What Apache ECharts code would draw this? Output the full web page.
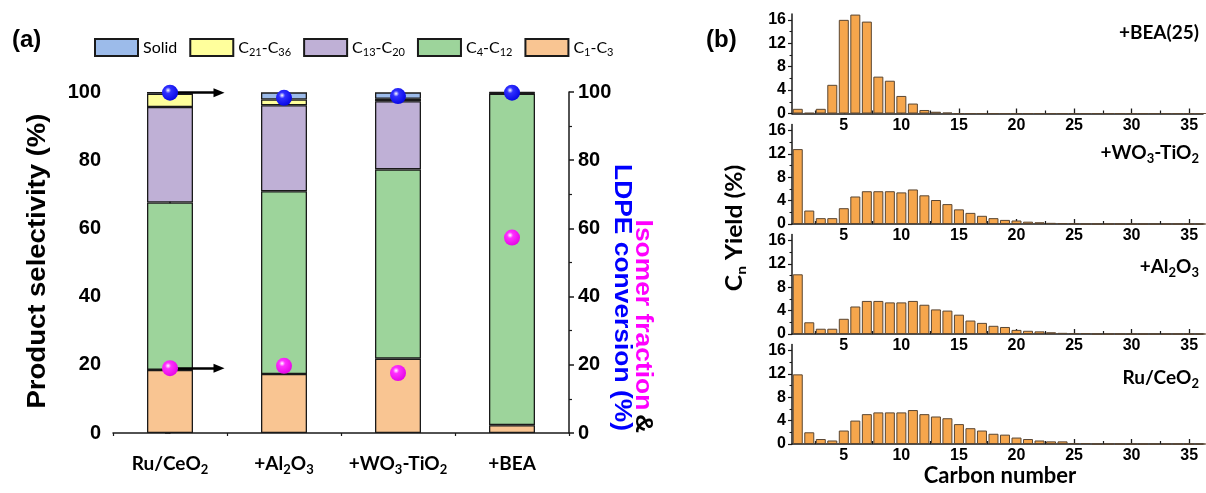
<!DOCTYPE html>
<html><head><meta charset="utf-8">
<script src="https://cdn.jsdelivr.net/npm/echarts@6/dist/echarts.min.js"></script>
<style>html,body{margin:0;padding:0;background:#fff}#c{width:1206px;height:493px}</style>
</head><body><div id="c"></div>
<script>
// ---------- Panel (a) data ----------
const catalysts = ['Ru/CeO2', '+Al2O3', '+WO3-TiO2', '+BEA'];
const fracC1C3 = [18.5, 17.3, 21.8, 2.3];
const fracC4C12 = [49.1, 53.6, 55.5, 97.2];
const fracC13C20 = [28.0, 25.2, 20.0, 0.2];
const fracC21C36 = [3.9, 1.7, 0.7, 0.1];
const fracSolid = [0.5, 2.1, 1.9, 0.2];
const ldpeConversion = [99.8, 98.3, 98.8, 99.8];
const isomerFraction = [19.0, 19.7, 17.6, 57.3];
const legendNames = ['Solid', 'C21-C36', 'C13-C20', 'C4-C12', 'C1-C3'];

// ---------- Panel (b) data ----------
const carbonNumbers = [1,2,3,4,5,6,7,8,9,10,11,12,13,14,15,16,17,18,19,20,21,22,23,24,25,26,27,28,29,30,31,32,33,34,35,36];
const yieldBEA = [0.8,0.1,0.8,4.9,16.0,16.9,15.7,6.3,5.6,3.0,1.7,0.6,0.3,0.15,0,0,0,0,0,0,0,0,0,0,0,0,0,0,0,0,0,0,0,0,0,0];
const yieldWO3TiO2 = [12.8,2.3,1.0,1.0,2.7,4.7,5.6,5.6,5.6,5.4,5.9,4.9,4.1,3.4,2.5,1.9,1.4,1.0,0.7,0.6,0.4,0.3,0.2,0.15,0.1,0,0,0,0,0,0,0,0,0,0,0];
const yieldAl2O3 = [10.2,2.0,0.9,0.9,2.6,4.7,5.65,5.65,5.4,5.4,5.65,5.0,4.2,4.0,3.3,2.3,1.9,1.4,1.2,0.7,0.55,0.45,0.3,0.2,0.15,0.15,0,0,0,0,0,0,0,0,0,0];
const yieldRuCeO2 = [11.9,2.0,0.85,0.6,2.3,4.0,5.1,5.4,5.4,5.4,5.8,5.1,4.7,4.4,3.4,2.7,2.3,1.75,1.6,1.1,0.85,0.6,0.45,0.45,0.15,0.15,0,0,0,0,0,0,0,0,0,0];
const panelLabels = ['+BEA(25)', '+WO3-TiO2', '+Al2O3', 'Ru/CeO2'];
const yieldTicks = [0, 4, 8, 12, 16];
const yieldMinorTicks = [2, 6, 10, 14];
const carbonTicks = [5, 10, 15, 20, 25, 30, 35];
const carbonMinorTicks = [2.5, 7.5, 12.5, 17.5, 22.5, 27.5, 32.5];

// ---------- styling ----------
const FA = "'Liberation Sans', Arial, sans-serif";
const FC = "Lato, 'Open Sans', sans-serif";
const AX = '#1a1a1a';
function richSub(str) {
  return ('{n|' + str.replace(/([A-Za-z])(\d+)/g, '$1}{s|$2}{n|') + '}').replace(/\{n\|\}/g, '');
}
function ball(c1, c2) {
  return { type: 'radial', x: 0.38, y: 0.35, r: 0.75,
    colorStops: [{offset: 0, color: '#ffffff'}, {offset: 0.25, color: c1}, {offset: 1, color: c2}] };
}
// rich styles for echarts labels (color) and graphic texts (fill)
const subStyles = (size, sub, pad, weight) => ({
  n: {fontFamily: FC, fontSize: size, fontWeight: weight, color: '#000', fill: '#000', lineHeight: size + 4},
  s: {fontFamily: FC, fontSize: sub, fontWeight: weight, color: '#000', fill: '#000', padding: [pad, 0, 0, 0]}
});

const barColors = {'C1-C3': '#f9c592', 'C4-C12': '#9dd49b', 'C13-C20': '#bfb0d6', 'C21-C36': '#ffff9c', 'Solid': '#9cbbea'};
const barData = {'C1-C3': fracC1C3, 'C4-C12': fracC4C12, 'C13-C20': fracC13C20, 'C21-C36': fracC21C36, 'Solid': fracSolid};

const gridA = {left: 113, right: 637, top: 92, bottom: 60};
const subTops = [14, 124.5, 234.5, 344.5];
const grids = [gridA].concat(subTops.map(t => ({left: 792, right: 3, top: t, height: 99.5})));

const xAxes = [
  {gridIndex: 0, type: 'category', data: catalysts,
   axisLine: {lineStyle: {color: AX, width: 1.5}},
   axisTick: {alignWithLabel: true, length: 5, lineStyle: {color: AX, width: 1.5}},
   axisLabel: {interval: 0, margin: 19, formatter: v => richSub(v), rich: subStyles(19, 13, 11, 'bold')}},
  {gridIndex: 0, type: 'value', position: 'bottom', min: -0.5, max: 3.5, interval: 1, show: true,
   axisLine: {show: false}, axisLabel: {show: false}, splitLine: {show: false},
   axisTick: {show: true, length: 3, lineStyle: {color: AX, width: 1.2}}}
];
const yAxes = [
  {gridIndex: 0, type: 'value', min: 0, max: 100, interval: 20, position: 'left',
   axisLine: {show: true, lineStyle: {color: AX, width: 1.5}},
   axisTick: {show: true, length: 5, lineStyle: {color: AX, width: 1.5}},
   minorTick: {show: true, splitNumber: 2, length: 3, lineStyle: {color: AX, width: 1.2}},
   splitLine: {show: false},
   axisLabel: {fontFamily: FA, fontWeight: 'bold', fontSize: 20, color: '#000', margin: 12}},
  {gridIndex: 0, type: 'value', min: 0, max: 100, interval: 20, position: 'right',
   axisLine: {show: true, lineStyle: {color: AX, width: 1.5}},
   axisTick: {show: true, length: 5, lineStyle: {color: AX, width: 1.5}},
   minorTick: {show: true, splitNumber: 2, length: 3, lineStyle: {color: AX, width: 1.2}},
   splitLine: {show: false},
   axisLabel: {fontFamily: FA, fontWeight: 'bold', fontSize: 20, color: '#000', margin: 9}}
];
for (let i = 0; i < 4; i++) {
  xAxes.push({gridIndex: i + 1, type: 'value', position: 'bottom', min: 0.5, max: 36.2,
    axisLine: {lineStyle: {color: AX, width: 1.5}}, splitLine: {show: false},
    axisTick: {show: true, inside: true, length: 5, customValues: carbonTicks, lineStyle: {color: AX, width: 1.3}},
    axisLabel: {customValues: carbonTicks, fontFamily: FA, fontWeight: 'bold', fontSize: 16, color: '#000', margin: 4}});
  yAxes.push({gridIndex: i + 1, type: 'value', position: 'left', min: 0, max: 17,
    axisLine: {show: true, lineStyle: {color: AX, width: 1.5}}, splitLine: {show: false},
    axisTick: {show: true, length: 4, customValues: yieldTicks, lineStyle: {color: AX, width: 1.2}},
    axisLabel: {customValues: yieldTicks, fontFamily: FA, fontWeight: 'bold', fontSize: 16, color: '#000', margin: 6}});
}
for (let i = 0; i < 4; i++) {
  xAxes.push({gridIndex: i + 1, type: 'value', position: 'bottom', min: 0.5, max: 36.2,
    axisLine: {show: false}, splitLine: {show: false}, axisLabel: {show: false},
    axisTick: {show: true, inside: true, length: 3, customValues: carbonMinorTicks, lineStyle: {color: AX, width: 1.2}}});
  yAxes.push({gridIndex: i + 1, type: 'value', position: 'left', min: 0, max: 17,
    axisLine: {show: false}, splitLine: {show: false}, axisLabel: {show: false},
    axisTick: {show: true, length: 2.5, customValues: yieldMinorTicks, lineStyle: {color: AX, width: 1.1}}});
}

const series = [];
['C1-C3', 'C4-C12', 'C13-C20', 'C21-C36', 'Solid'].forEach(name => {
  series.push({name, type: 'bar', stack: 'sel', xAxisIndex: 0, yAxisIndex: 0, barWidth: 46,
    data: barData[name], itemStyle: {color: barColors[name], borderColor: '#1a1a1a', borderWidth: 1.3}});
});
// arrows pointing to the right axis
series.push({type: 'scatter', xAxisIndex: 1, yAxisIndex: 1, symbolSize: 0, z: 3,
  data: [[0, ldpeConversion[0]], [0, isomerFraction[0]]],
  markLine: {silent: true, symbol: ['none', 'triangle'], symbolSize: [9, 11], animation: false,
    label: {show: false}, lineStyle: {color: '#000', width: 2.5, type: 'solid'},
    emphasis: {disabled: true},
    data: [[{coord: [0, ldpeConversion[0]]}, {coord: [0.43, ldpeConversion[0]]}],
           [{coord: [0, isomerFraction[0]]}, {coord: [0.43, isomerFraction[0]]}]]}});
series.push({name: 'LDPE conversion', type: 'scatter', xAxisIndex: 0, yAxisIndex: 1, z: 5,
  symbolSize: 16, data: ldpeConversion, itemStyle: {color: ball('#3030ff', '#0000e0'), opacity: 1}});
series.push({name: 'Isomer fraction', type: 'scatter', xAxisIndex: 0, yAxisIndex: 1, z: 5,
  symbolSize: 16, data: isomerFraction, itemStyle: {color: ball('#ff30ff', '#e000e0'), opacity: 1}});

const yieldSets = [yieldBEA, yieldWO3TiO2, yieldAl2O3, yieldRuCeO2];
yieldSets.forEach((ys, i) => {
  series.push({type: 'bar', xAxisIndex: i + 2, yAxisIndex: i + 2, barWidth: 10,
    data: carbonNumbers.map((c, k) => [c, ys[k]]),
    itemStyle: {color: '#f6a64c', borderColor: '#5a4632', borderWidth: 1}});
});

const graphics = [
  {type: 'text', left: 12, top: 28, style: {text: '(a)', fontFamily: FA, fontWeight: 'bold', fontSize: 24, fill: '#000'}},
  {type: 'text', left: 706, top: 28, style: {text: '(b)', fontFamily: FA, fontWeight: 'bold', fontSize: 24, fill: '#000'}},
  {type: 'text', x: 38, y: 261, rotation: Math.PI / 2, scaleX: 1.1,
   style: {text: 'Product selectivity (%)', fontFamily: FA, fontWeight: 'bold', fontSize: 25, fill: '#000', align: 'center', verticalAlign: 'middle'}},
  {type: 'text', x: 643, y: 433, rotation: -Math.PI / 2, scaleX: 1.1,
   style: {text: '{m|Isomer fraction} {k|&}', align: 'right', verticalAlign: 'middle',
     rich: {m: {fontFamily: FA, fontWeight: 'bold', fontSize: 24, fill: '#ff00ff', color: '#ff00ff'},
            k: {fontFamily: FA, fontWeight: 'bold', fontSize: 24, fill: '#000', color: '#000'}}}},
  {type: 'text', x: 622, y: 431, rotation: -Math.PI / 2, scaleX: 1.1,
   style: {text: 'LDPE conversion (%)', fontFamily: FA, fontWeight: 'bold', fontSize: 24, fill: '#0000ff', align: 'right', verticalAlign: 'middle'}},
  {type: 'text', x: 735, y: 228, rotation: Math.PI / 2, scaleX: 1.12,
   style: {text: '{n|C}{s|n}{n| Yield (%)}', align: 'center', verticalAlign: 'middle', rich: subStyles(22, 14, 12, 'bold')}},
  {type: 'text', x: 1000, y: 476,
   style: {text: 'Carbon number', fontFamily: FC, fontWeight: 'bold', fontSize: 22, fill: '#000', align: 'center', verticalAlign: 'middle'}}
];
const labelYs = [33, 153, 267, 378];
panelLabels.forEach((t, i) => {
  graphics.push({type: 'text', x: 1199, y: labelYs[i],
    style: {text: richSub(t), align: 'right', verticalAlign: 'middle', rich: subStyles(19, 13, 11, 'bold')}});
});

const chart = echarts.init(document.getElementById('c'));
chart.setOption({
  animation: false,
  backgroundColor: '#fff',
  grid: grids,
  xAxis: xAxes,
  yAxis: yAxes,
  legend: {data: legendNames, left: 89, top: 33, itemWidth: 43, itemHeight: 17, itemGap: 12,
    icon: 'rect', selectedMode: false,
    formatter: name => richSub(name),
    textStyle: {rich: subStyles(16, 11, 9, 'normal')}},
  series,
  graphic: graphics
});
</script></body></html>
